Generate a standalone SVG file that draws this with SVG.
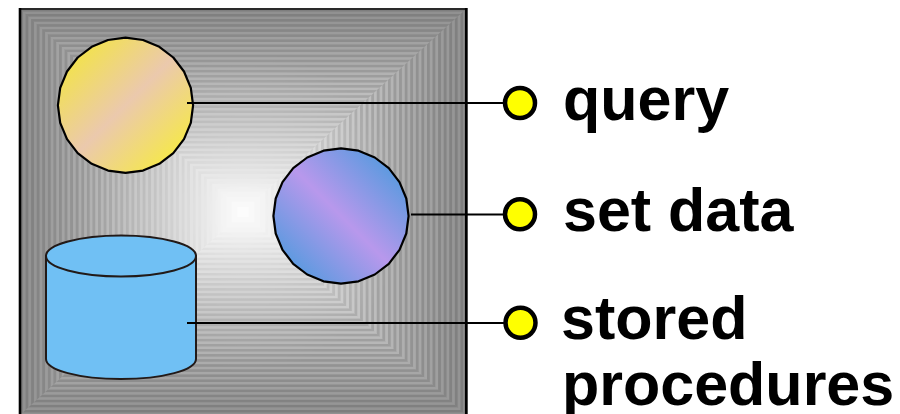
<svg xmlns="http://www.w3.org/2000/svg" width="900" height="414" viewBox="0 0 900 414">
<style>
.lbl{font-family:"Liberation Sans",Arial,sans-serif;font-weight:bold;font-size:61px;fill:#000}
.ln{fill:none;stroke:#000;stroke-width:2}
.dot{fill:#ff0;stroke:#000;stroke-width:4.5}
.blob{stroke:#000;stroke-width:2.2;stroke-linejoin:round}
.cyl{fill:#70c0f4;stroke:#221a18;stroke-width:2}
</style>
<defs>
<linearGradient id="gy" x1="0" y1="0" x2="1" y2="1">
<stop offset="0.1" stop-color="#f3e445"/><stop offset="0.5" stop-color="#ebc9ad"/><stop offset="0.85" stop-color="#f5e650"/>
</linearGradient>
<linearGradient id="gb" x1="1" y1="0" x2="0" y2="1">
<stop offset="0.15" stop-color="#5f9ae0"/><stop offset="0.5" stop-color="#b898ec"/><stop offset="0.85" stop-color="#5f9ae0"/>
</linearGradient>
<pattern id="sv" patternUnits="userSpaceOnUse" x="20" y="0" width="5.575" height="10"><rect width="2.8" height="10" fill="#000" fill-opacity=".13"/></pattern>
<pattern id="sh" patternUnits="userSpaceOnUse" x="0" y="9" width="10" height="5.075"><rect width="10" height="2.5" fill="#000" fill-opacity=".13"/></pattern>
<radialGradient id="fade" gradientUnits="userSpaceOnUse" cx="243" cy="212" r="230"><stop offset="0.1" stop-color="#000"/><stop offset="0.7" stop-color="#fff"/></radialGradient>
<mask id="sm" maskUnits="userSpaceOnUse" x="0" y="0" width="900" height="414"><rect width="900" height="414" fill="url(#fade)"/></mask>
<polygon id="blob" points="193.1,105.3 190.8,122.8 184,139.1 173.3,153.1 159.3,163.8 143,170.6 125.5,172.9 108,170.6 91.7,163.8 77.7,153.1 67,139.1 60.2,122.8 57.9,105.3 60.2,87.8 67,71.5 77.7,57.5 91.7,46.8 108,40 125.5,37.7 143,40 159.3,46.8 173.3,57.5 184,71.5 190.8,87.8"/>
</defs>
<g id="background">
<g opacity=".76">
<rect x="20" y="9" width="446" height="406" fill="rgb(111,111,111)"/>
<rect x="25.6" y="14.1" width="434.9" height="395.9" fill="rgb(115,115,115)"/>
<rect x="31.2" y="19.2" width="423.7" height="385.7" fill="rgb(118,118,118)"/>
<rect x="36.7" y="24.2" width="412.6" height="375.6" fill="rgb(122,122,122)"/>
<rect x="42.3" y="29.3" width="401.4" height="365.4" fill="rgb(125,125,125)"/>
<rect x="47.9" y="34.4" width="390.3" height="355.3" fill="rgb(129,129,129)"/>
<rect x="53.4" y="39.5" width="379.1" height="345.1" fill="rgb(133,133,133)"/>
<rect x="59" y="44.5" width="368" height="335" fill="rgb(136,136,136)"/>
<rect x="64.6" y="49.6" width="356.8" height="324.8" fill="rgb(140,140,140)"/>
<rect x="70.2" y="54.7" width="345.7" height="314.7" fill="rgb(143,143,143)"/>
<rect x="75.8" y="59.8" width="334.5" height="304.5" fill="rgb(147,147,147)"/>
<rect x="81.3" y="64.8" width="323.4" height="294.4" fill="rgb(151,151,151)"/>
<rect x="86.9" y="69.9" width="312.2" height="284.2" fill="rgb(154,154,154)"/>
<rect x="92.5" y="75" width="301.1" height="274.1" fill="rgb(158,158,158)"/>
<rect x="98.1" y="80.1" width="289.9" height="263.9" fill="rgb(161,161,161)"/>
<rect x="103.6" y="85.1" width="278.8" height="253.8" fill="rgb(165,165,165)"/>
<rect x="109.2" y="90.2" width="267.6" height="243.6" fill="rgb(169,169,169)"/>
<rect x="114.8" y="95.3" width="256.5" height="233.5" fill="rgb(172,172,172)"/>
<rect x="120.4" y="100.4" width="245.3" height="223.3" fill="rgb(176,176,176)"/>
<rect x="125.9" y="105.4" width="234.2" height="213.2" fill="rgb(179,179,179)"/>
<rect x="131.5" y="110.5" width="223" height="203" fill="rgb(183,183,183)"/>
<rect x="137.1" y="115.6" width="211.9" height="192.9" fill="rgb(187,187,187)"/>
<rect x="142.7" y="120.7" width="200.7" height="182.7" fill="rgb(190,190,190)"/>
<rect x="148.2" y="125.7" width="189.6" height="172.6" fill="rgb(194,194,194)"/>
<rect x="153.8" y="130.8" width="178.4" height="162.4" fill="rgb(197,197,197)"/>
<rect x="159.4" y="135.9" width="167.3" height="152.3" fill="rgb(201,201,201)"/>
<rect x="165" y="141" width="156.1" height="142.1" fill="rgb(205,205,205)"/>
<rect x="170.5" y="146" width="145" height="132" fill="rgb(208,208,208)"/>
<rect x="176.1" y="151.1" width="133.8" height="121.8" fill="rgb(212,212,212)"/>
<rect x="181.7" y="156.2" width="122.7" height="111.7" fill="rgb(215,215,215)"/>
<rect x="187.3" y="161.3" width="111.5" height="101.5" fill="rgb(219,219,219)"/>
<rect x="192.8" y="166.3" width="100.4" height="91.4" fill="rgb(223,223,223)"/>
<rect x="198.4" y="171.4" width="89.2" height="81.2" fill="rgb(226,226,226)"/>
<rect x="204" y="176.5" width="78.1" height="71.1" fill="rgb(230,230,230)"/>
<rect x="209.6" y="181.6" width="66.9" height="60.9" fill="rgb(233,233,233)"/>
<rect x="215.1" y="186.6" width="55.8" height="50.8" fill="rgb(237,237,237)"/>
<rect x="220.7" y="191.7" width="44.6" height="40.6" fill="rgb(241,241,241)"/>
<rect x="226.3" y="196.8" width="33.5" height="30.5" fill="rgb(244,244,244)"/>
<rect x="231.9" y="201.9" width="22.3" height="20.3" fill="rgb(248,248,248)"/>
<rect x="237.4" y="206.9" width="11.2" height="10.2" fill="rgb(252,252,252)"/>
</g>
<g mask="url(#sm)">
<polygon fill="url(#sv)" points="20,9 243,212 20,415"/>
<polygon fill="url(#sv)" points="466,9 243,212 466,415"/>
<polygon fill="url(#sh)" points="20,9 466,9 243,212"/>
<polygon fill="url(#sh)" points="20,415 466,415 243,212"/>
</g>
<path d="M19 9H467" fill="none" stroke="#2a2a2a" stroke-width="2"/>
<path d="M20 8V414" fill="none" stroke="#000" stroke-width="2.6"/>
<path d="M466.300 8V414" fill="none" stroke="#000" stroke-width="2.8"/>
</g>
<g id="query-shape">
<use href="#blob" class="blob" fill="url(#gy)"/>
</g>
<g id="setdata-shape">
<use href="#blob" class="blob" fill="url(#gb)" transform="translate(215.500 110.700)"/>
</g>
<g id="stored-shape">
<path class="cyl" d="M46 256V359C46 370 79 379 121 379S196 370 196 359V256Z"/>
<ellipse class="cyl" cx="121" cy="256" rx="75" ry="20.5"/>
</g>
<g id="connectors">
<path class="ln" d="M187 103H505"/>
<path class="ln" d="M411 214.500H505"/>
<path class="ln" d="M187 323H505"/>
</g>
<g id="query">
<circle class="dot" cx="520" cy="103" r="15"/>
<text class="lbl" x="563" y="120">query</text>
</g>
<g id="setdata">
<circle class="dot" cx="520" cy="214.300" r="15"/>
<text class="lbl" x="563" y="231">set data</text>
</g>
<g id="stored">
<circle class="dot" cx="520.500" cy="322.700" r="15"/>
<text class="lbl" x="561" y="339">stored</text>
<text class="lbl" x="562" y="405">procedures</text>
</g>
</svg>
